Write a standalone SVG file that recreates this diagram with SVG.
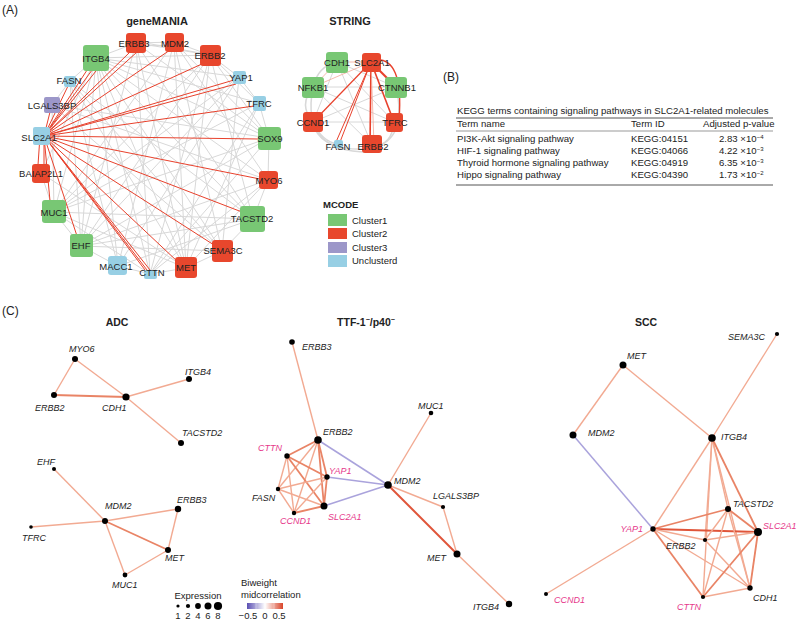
<svg xmlns="http://www.w3.org/2000/svg" width="800" height="622" viewBox="0 0 800 622">
<defs>
  <linearGradient id="bicor" x1="0" y1="0" x2="1" y2="0">
    <stop offset="0" stop-color="#5a4fb3"/>
    <stop offset="0.5" stop-color="#ffffff"/>
    <stop offset="1" stop-color="#d9452a"/>
  </linearGradient>
</defs>
<style>
  text { font-family: "Liberation Sans", Arial, sans-serif; fill: #222; }
  .panel { font-size: 12px; }
  .title { font-size: 11px; font-weight: bold; }
  .gl { font-size: 9.5px; text-anchor: middle; }
  .g1 { fill: #78c774; } .g2 { fill: #e8472d; } .g3 { fill: #9c97c9; } .g4 { fill: #97cfe4; }
  .gray line, .gray path { stroke: #d8d8d8; stroke-width: 1; fill: none; }
  .red line { stroke: #e8412c; stroke-width: 1; }
  .tb { font-size: 9.6px; }
  .rule { stroke: #555; stroke-width: 1; }
  .lg { font-size: 9.5px; }
  .gn { font-size: 9px; font-style: italic; }
  .pk { fill: #e6388a; }
  .e1 { stroke: #f2aa92; stroke-width: 1.4; }
  .e2 { stroke: #e98466; stroke-width: 1.8; }
  .e3 { stroke: #e0553a; stroke-width: 2; }
  .ep { stroke: #aaa3dc; stroke-width: 1.5; }
  .dot { fill: #000; }
</style>

<!-- panel letters -->
<text class="panel" x="2" y="14">(A)</text>
<text class="panel" x="443" y="81">(B)</text>
<text class="panel" x="2" y="315">(C)</text>

<!-- ===== geneMANIA network ===== -->
<text class="title" x="157" y="25" text-anchor="middle">geneMANIA</text>
<g id="genemania-edges">
  <g class="gray">
    <line x1="136" y1="43" x2="174" y2="42"/><line x1="174" y1="42" x2="210" y2="55"/>
    <line x1="210" y1="55" x2="239" y2="77"/><line x1="239" y1="77" x2="259" y2="103"/>
    <line x1="259" y1="103" x2="269" y2="138"/><line x1="269" y1="138" x2="268" y2="180"/>
    <line x1="268" y1="180" x2="253" y2="219"/><line x1="253" y1="219" x2="222" y2="251"/>
    <line x1="222" y1="251" x2="186" y2="268"/><line x1="186" y1="268" x2="150" y2="274"/>
    <line x1="150" y1="274" x2="118" y2="266"/><line x1="118" y1="266" x2="81" y2="246"/>
    <line x1="81" y1="246" x2="54" y2="212"/><line x1="54" y1="212" x2="41" y2="173"/>
    <line x1="96" y1="58" x2="70" y2="81"/><line x1="96" y1="58" x2="136" y2="43"/>
    <line x1="70" y1="81" x2="52" y2="105"/>
    <line x1="136" y1="43" x2="210" y2="55"/><line x1="136" y1="43" x2="269" y2="138"/>
    <line x1="136" y1="43" x2="253" y2="219"/><line x1="136" y1="43" x2="186" y2="268"/>
    <line x1="136" y1="43" x2="150" y2="274"/><line x1="136" y1="43" x2="81" y2="246"/>
    <line x1="174" y1="42" x2="269" y2="138"/><line x1="174" y1="42" x2="268" y2="180"/>
    <line x1="174" y1="42" x2="222" y2="251"/><line x1="174" y1="42" x2="186" y2="268"/>
    <line x1="174" y1="42" x2="118" y2="266"/><line x1="174" y1="42" x2="54" y2="212"/>
    <line x1="210" y1="55" x2="259" y2="103"/><line x1="210" y1="55" x2="269" y2="138"/>
    <line x1="210" y1="55" x2="253" y2="219"/><line x1="210" y1="55" x2="186" y2="268"/>
    <line x1="210" y1="55" x2="150" y2="274"/><line x1="210" y1="55" x2="81" y2="246"/>
    <line x1="210" y1="55" x2="54" y2="212"/><line x1="210" y1="55" x2="96" y2="58"/>
    <line x1="239" y1="77" x2="222" y2="251"/><line x1="239" y1="77" x2="118" y2="266"/>
    <line x1="239" y1="77" x2="81" y2="246"/><line x1="239" y1="77" x2="54" y2="212"/>
    <line x1="239" y1="77" x2="96" y2="58"/><line x1="259" y1="103" x2="186" y2="268"/>
    <line x1="259" y1="103" x2="54" y2="212"/><line x1="259" y1="103" x2="96" y2="58"/>
    <line x1="269" y1="138" x2="150" y2="274"/><line x1="269" y1="138" x2="81" y2="246"/>
    <line x1="269" y1="138" x2="54" y2="212"/><line x1="269" y1="138" x2="96" y2="58"/>
    <line x1="269" y1="138" x2="52" y2="105"/><line x1="268" y1="180" x2="186" y2="268"/>
    <line x1="268" y1="180" x2="150" y2="274"/><line x1="268" y1="180" x2="81" y2="246"/>
    <line x1="268" y1="180" x2="96" y2="58"/><line x1="268" y1="180" x2="52" y2="105"/>
    <line x1="253" y1="219" x2="118" y2="266"/><line x1="253" y1="219" x2="81" y2="246"/>
    <line x1="253" y1="219" x2="54" y2="212"/><line x1="253" y1="219" x2="96" y2="58"/>
    <line x1="253" y1="219" x2="70" y2="81"/><line x1="222" y1="251" x2="81" y2="246"/>
    <line x1="222" y1="251" x2="96" y2="58"/><line x1="222" y1="251" x2="52" y2="105"/>
    <line x1="222" y1="251" x2="70" y2="81"/><line x1="186" y1="268" x2="54" y2="212"/>
    <line x1="186" y1="268" x2="96" y2="58"/><line x1="186" y1="268" x2="70" y2="81"/>
    <line x1="186" y1="268" x2="41" y2="173"/><line x1="150" y1="274" x2="96" y2="58"/>
    <line x1="150" y1="274" x2="54" y2="212"/><line x1="150" y1="274" x2="259" y2="103"/>
    <line x1="118" y1="266" x2="96" y2="58"/><line x1="118" y1="266" x2="70" y2="81"/>
    <line x1="81" y1="246" x2="96" y2="58"/><line x1="81" y1="246" x2="70" y2="81"/>
    <line x1="54" y1="212" x2="96" y2="58"/><line x1="54" y1="212" x2="52" y2="105"/>
    <line x1="41" y1="173" x2="96" y2="58"/><line x1="140" y1="42" x2="206" y2="54"/>
    <line x1="138" y1="46" x2="172" y2="45"/>
  </g>
  <g class="red">
    <line x1="44" y1="136" x2="91" y2="64"/><line x1="44" y1="136" x2="95" y2="66"/>
    <line x1="44" y1="136" x2="100" y2="66"/><line x1="44" y1="136" x2="130" y2="52"/>
    <line x1="44" y1="136" x2="137" y2="52"/><line x1="44" y1="136" x2="170" y2="50"/>
    <line x1="44" y1="136" x2="204" y2="63"/><line x1="44" y1="136" x2="234" y2="80"/>
    <line x1="44" y1="136" x2="236" y2="84"/><line x1="44" y1="136" x2="254" y2="106"/>
    <line x1="44" y1="136" x2="258" y2="139"/><line x1="44" y1="136" x2="260" y2="179"/>
    <line x1="44" y1="136" x2="242" y2="212"/><line x1="44" y1="136" x2="214" y2="245"/>
    <line x1="44" y1="136" x2="178" y2="262"/><line x1="44" y1="136" x2="145" y2="270"/>
    <line x1="44" y1="136" x2="147" y2="270"/><line x1="44" y1="136" x2="150" y2="270"/>
    <line x1="44" y1="136" x2="77" y2="236"/><line x1="44" y1="136" x2="50" y2="201"/>
    <line x1="40" y1="136" x2="38" y2="165"/><line x1="44" y1="136" x2="44" y2="165"/>
    <line x1="44" y1="136" x2="68" y2="86"/><line x1="44" y1="136" x2="50" y2="112"/>
  </g>
</g>
<g id="gm-ERBB3"><rect class="g2" x="126" y="33" width="20" height="20" rx="3"/><text class="gl" x="134" y="47">ERBB3</text></g>
<g id="gm-MDM2"><rect class="g2" x="165" y="33" width="19" height="19" rx="3"/><text class="gl" x="175" y="47">MDM2</text></g>
<g id="gm-ERBB2"><rect class="g2" x="200" y="45" width="21" height="21" rx="3"/><text class="gl" x="210" y="59">ERBB2</text></g>
<g id="gm-ITGB4"><rect class="g1" x="83" y="45" width="26" height="26" rx="3"/><text class="gl" x="96" y="62">ITGB4</text></g>
<g id="gm-YAP1"><rect class="g4" x="233" y="71" width="13" height="13" rx="2"/><text class="gl" x="241" y="81">YAP1</text></g>
<g id="gm-FASN"><rect class="g4" x="64" y="76" width="12" height="11" rx="2"/><text class="gl" x="69" y="84">FASN</text></g>
<g id="gm-TFRC"><rect class="g4" x="253" y="96" width="13" height="15" rx="2"/><text class="gl" x="259" y="107">TFRC</text></g>
<g id="gm-LGALS3BP"><rect class="g3" x="44" y="97" width="16" height="16" rx="2"/><text class="gl" x="52" y="109">LGALS3BP</text></g>
<g id="gm-SLC2A1"><rect class="g4" x="33" y="127" width="17" height="18" rx="2"/><text class="gl" x="39" y="141">SLC2A1</text></g>
<g id="gm-SOX9"><rect class="g1" x="258" y="127" width="23" height="23" rx="3"/><text class="gl" x="270" y="142">SOX9</text></g>
<g id="gm-BAIAP2L1"><rect class="g2" x="32" y="164" width="18" height="19" rx="3"/><text class="gl" x="41" y="177">BAIAP2L1</text></g>
<g id="gm-MYO6"><rect class="g2" x="259" y="171" width="19" height="18" rx="3"/><text class="gl" x="269" y="184">MYO6</text></g>
<g id="gm-MUC1"><rect class="g1" x="42" y="200" width="24" height="23" rx="3"/><text class="gl" x="54" y="216">MUC1</text></g>
<g id="gm-TACSTD2"><rect class="g1" x="240" y="206" width="25" height="26" rx="3"/><text class="gl" x="252" y="222">TACSTD2</text></g>
<g id="gm-EHF"><rect class="g1" x="70" y="234" width="23" height="23" rx="3"/><text class="gl" x="81" y="249">EHF</text></g>
<g id="gm-SEMA3C"><rect class="g2" x="212" y="240" width="21" height="22" rx="3"/><text class="gl" x="223" y="254">SEMA3C</text></g>
<g id="gm-MACC1"><rect class="g4" x="108" y="256" width="19" height="19" rx="3"/><text class="gl" x="116" y="270">MACC1</text></g>
<g id="gm-CTTN"><rect class="g4" x="144" y="270" width="13" height="9" rx="2"/><text class="gl" x="152" y="276">CTTN</text></g>
<g id="gm-MET"><rect class="g2" x="175" y="257" width="22" height="21" rx="3"/><text class="gl" x="186" y="271">MET</text></g>

<!-- ===== STRING network ===== -->
<text class="title" x="350" y="25" text-anchor="middle">STRING</text>
<g id="string-edges">
  <g class="gray">
    <path d="M313,87 Q298,105 313,122" style="stroke-width:1.5"/>
    <path d="M313,122 Q318,152 372,149" style="stroke-width:1.5"/>
    <path d="M313,87 Q300,154 372,152" style="stroke-width:1.5"/>
    <path d="M396,87 Q408,140 372,148" style="stroke-width:1.5"/>
    <path d="M394,122 Q392,146 372,146" style="stroke-width:1.5"/>
    <path d="M337,62 Q318,66 313,87" style="stroke-width:1.5"/>
    <path d="M313,122 Q322,142 338,144" style="stroke-width:1.5"/>
    <line x1="337" y1="62" x2="396" y2="87"/><line x1="313" y1="87" x2="396" y2="87"/>
    <line x1="337" y1="62" x2="313" y2="122"/><line x1="337" y1="62" x2="372" y2="145"/>
    <line x1="313" y1="87" x2="394" y2="122"/><line x1="396" y1="87" x2="313" y2="122"/>
    <line x1="337" y1="62" x2="394" y2="122"/><line x1="313" y1="87" x2="372" y2="145"/>
    <line x1="313" y1="122" x2="394" y2="122"/>
  </g>
  <g fill="none">
    <line x1="371" y1="62" x2="337" y2="62" stroke="#f4a898" stroke-width="0.8"/>
    <line x1="371" y1="62" x2="313" y2="87" stroke="#f4a898" stroke-width="0.8"/>
    <line x1="337" y1="62" x2="313" y2="87" stroke="#f4a898" stroke-width="0.8"/>
    <line x1="371" y1="62" x2="313" y2="122" stroke="#e8412c" stroke-width="1.2"/>
    <line x1="371" y1="62" x2="336" y2="142" stroke="#e8412c" stroke-width="1"/>
    <line x1="371" y1="62" x2="340" y2="142" stroke="#e8412c" stroke-width="1"/>
    <line x1="371" y1="62" x2="370" y2="145" stroke="#e8412c" stroke-width="1.6"/>
    <line x1="371" y1="62" x2="374" y2="145" stroke="#f4a898" stroke-width="0.8"/>
    <line x1="371" y1="62" x2="394" y2="122" stroke="#e8412c" stroke-width="1.6"/>
    <line x1="371" y1="62" x2="396" y2="87" stroke="#e8412c" stroke-width="2.2"/>
    <path d="M374,60 Q404,56 399,120" stroke="#e8412c" stroke-width="1.4"/>
  </g>
</g>
<g id="st-CDH1"><rect class="g1" x="326" y="52" width="22" height="21" rx="3"/><text class="gl" x="337" y="66">CDH1</text></g>
<g id="st-SLC2A1"><rect class="g2" x="362" y="53" width="19" height="19" rx="3"/><text class="gl" x="372" y="66">SLC2A1</text></g>
<g id="st-NFKB1"><rect class="g1" x="302" y="77" width="22" height="21" rx="3"/><text class="gl" x="313" y="91">NFKB1</text></g>
<g id="st-CTNNB1"><rect class="g1" x="385" y="77" width="22" height="21" rx="3"/><text class="gl" x="397" y="91">CTNNB1</text></g>
<g id="st-CCND1"><rect class="g2" x="303" y="112" width="20" height="20" rx="3"/><text class="gl" x="313" y="126">CCND1</text></g>
<g id="st-TFRC"><rect class="g2" x="386" y="113" width="17" height="19" rx="3"/><text class="gl" x="395" y="126">TFRC</text></g>
<g id="st-FASN"><rect class="g4" x="334" y="140" width="9" height="8" rx="2"/><text class="gl" x="338" y="150">FASN</text></g>
<g id="st-ERBB2"><rect class="g2" x="362" y="135" width="20" height="18" rx="3"/><text class="gl" x="373" y="150">ERBB2</text></g>

<!-- MCODE legend -->
<g id="mcode-legend">
  <text x="323" y="208" style="font-size:9.5px;font-weight:bold">MCODE</text>
  <rect class="g1" x="328" y="214" width="19" height="12"/><text class="lg" x="352" y="223.5">Cluster1</text>
  <rect class="g2" x="328" y="228" width="19" height="11"/><text class="lg" x="352" y="237">Cluster2</text>
  <rect class="g3" x="328" y="242" width="19" height="11"/><text class="lg" x="352" y="251">Cluster3</text>
  <rect class="g4" x="328" y="255" width="19" height="12"/><text class="lg" x="352" y="264">Unclusterd</text>
</g>

<!-- ===== (B) KEGG table ===== -->
<g id="kegg-table" class="tb">
  <text x="457" y="114">KEGG terms containing signaling pathways in SLC2A1-related molecules</text>
  <line class="rule" x1="456" y1="118" x2="773" y2="118"/>
  <text x="457" y="127">Term name</text>
  <text x="631" y="127">Term ID</text>
  <text x="703" y="127">Adjusted p-value</text>
  <line class="rule" x1="456" y1="131" x2="773" y2="131" style="stroke-width:0.6"/>
  <text x="457" y="142">PI3K-Akt signaling pathway</text>
  <text x="631" y="142">KEGG:04151</text>
  <text x="719" y="142">2.83 ×10<tspan dy="-3" style="font-size:6px">−4</tspan></text>
  <text x="457" y="154">HIF-1 signaling pathway</text>
  <text x="631" y="154">KEGG:04066</text>
  <text x="719" y="154">4.22 ×10<tspan dy="-3" style="font-size:6px">−3</tspan></text>
  <text x="457" y="166">Thyroid hormone signaling pathway</text>
  <text x="631" y="166">KEGG:04919</text>
  <text x="719" y="166">6.35 ×10<tspan dy="-3" style="font-size:6px">−3</tspan></text>
  <text x="457" y="178">Hippo signaling pathway</text>
  <text x="631" y="178">KEGG:04390</text>
  <text x="719" y="178">1.73 ×10<tspan dy="-3" style="font-size:6px">−2</tspan></text>
  <line class="rule" x1="456" y1="185" x2="773" y2="185"/>
</g>

<!-- ===== (C) ADC ===== -->
<text x="117" y="326" text-anchor="middle" style="font-size:10.5px;font-weight:bold">ADC</text>
<g id="adc-edges">
  <line class="e1" x1="75" y1="359" x2="54" y2="395"/>
  <line class="e1" x1="75" y1="359" x2="126" y2="397"/>
  <line class="e2" x1="54" y1="395" x2="126" y2="397"/>
  <line class="e1" x1="126" y1="397" x2="189" y2="379"/>
  <line class="e1" x1="126" y1="397" x2="181" y2="443"/>
  <line class="e1" x1="54" y1="469" x2="105" y2="521"/>
  <line class="e1" x1="31" y1="527" x2="105" y2="521"/>
  <line class="e1" x1="105" y1="521" x2="178" y2="509"/>
  <line class="e2" x1="105" y1="521" x2="168" y2="550"/>
  <line class="e1" x1="178" y1="509" x2="168" y2="550"/>
  <line class="e1" x1="105" y1="521" x2="125" y2="575"/>
  <line class="e1" x1="125" y1="575" x2="168" y2="550"/>
</g>
<g id="adc-MYO6"><circle class="dot" cx="75" cy="359" r="3"/><text class="gn" x="69" y="352">MYO6</text></g>
<g id="adc-ERBB2"><circle class="dot" cx="54" cy="395" r="3"/><text class="gn" x="35" y="411">ERBB2</text></g>
<g id="adc-CDH1"><circle class="dot" cx="126" cy="397" r="3.6"/><text class="gn" x="102" y="411">CDH1</text></g>
<g id="adc-ITGB4"><circle class="dot" cx="189" cy="379" r="3"/><text class="gn" x="185" y="375">ITGB4</text></g>
<g id="adc-TACSTD2"><circle class="dot" cx="181" cy="443" r="3"/><text class="gn" x="182" y="436">TACSTD2</text></g>
<g id="adc-EHF"><circle class="dot" cx="54" cy="469" r="2"/><text class="gn" x="37" y="465">EHF</text></g>
<g id="adc-MDM2"><circle class="dot" cx="105" cy="521" r="3"/><text class="gn" x="105" y="509">MDM2</text></g>
<g id="adc-ERBB3"><circle class="dot" cx="178" cy="509" r="3.2"/><text class="gn" x="177" y="503">ERBB3</text></g>
<g id="adc-TFRC"><circle class="dot" cx="31" cy="527" r="1.8"/><text class="gn" x="22" y="541">TFRC</text></g>
<g id="adc-MET"><circle class="dot" cx="168" cy="550" r="3"/><text class="gn" x="165" y="561">MET</text></g>
<g id="adc-MUC1"><circle class="dot" cx="125" cy="575" r="2.4"/><text class="gn" x="112" y="588">MUC1</text></g>

<!-- ===== (C) TTF-1-/p40- ===== -->
<text x="366" y="326" text-anchor="middle" style="font-size:10.5px;font-weight:bold">TTF-1<tspan dy="-4" style="font-size:7px">−</tspan><tspan dy="4">/p40</tspan><tspan dy="-4" style="font-size:7px">−</tspan></text>
<g id="ttf-edges">
  <line class="e1" x1="292" y1="342" x2="318" y2="440"/>
  <line class="e1" x1="431" y1="413" x2="388" y2="485"/>
  <line class="ep" x1="318" y1="440" x2="388" y2="485"/>
  <line class="ep" x1="327" y1="477" x2="388" y2="485"/>
  <line class="ep" x1="324" y1="506" x2="388" y2="485"/>
  <line class="e1" x1="388" y1="485" x2="443" y2="507"/>
  <line class="e3" x1="388" y1="485" x2="457" y2="554"/>
  <line class="e1" x1="443" y1="507" x2="457" y2="554"/>
  <line class="e1" x1="457" y1="554" x2="509" y2="604"/>
  <line class="e2" x1="318" y1="440" x2="287" y2="456"/>
  <line class="e2" x1="318" y1="440" x2="327" y2="477"/>
  <line class="e1" x1="318" y1="440" x2="278" y2="489"/>
  <line class="e2" x1="318" y1="440" x2="324" y2="506"/>
  <line class="e1" x1="318" y1="440" x2="294" y2="513"/>
  <line class="e2" x1="287" y1="456" x2="327" y2="477"/>
  <line class="e1" x1="287" y1="456" x2="278" y2="489"/>
  <line class="e2" x1="287" y1="456" x2="324" y2="506"/>
  <line class="e1" x1="287" y1="456" x2="294" y2="513"/>
  <line class="e1" x1="327" y1="477" x2="278" y2="489"/>
  <line class="e2" x1="327" y1="477" x2="324" y2="506"/>
  <line class="e1" x1="327" y1="477" x2="294" y2="513"/>
  <line class="e1" x1="278" y1="489" x2="324" y2="506"/>
  <line class="e1" x1="278" y1="489" x2="294" y2="513"/>
  <line class="e2" x1="324" y1="506" x2="294" y2="513"/>
</g>
<g id="ttf-ERBB3"><circle class="dot" cx="292" cy="342" r="2.8"/><text class="gn" x="302" y="350">ERBB3</text></g>
<g id="ttf-ERBB2"><circle class="dot" cx="318" cy="440" r="3.8"/><text class="gn" x="323" y="435">ERBB2</text></g>
<g id="ttf-MUC1"><circle class="dot" cx="431" cy="413" r="2.3"/><text class="gn" x="418" y="409">MUC1</text></g>
<g id="ttf-CTTN"><circle class="dot" cx="287" cy="456" r="2.7"/><text class="gn pk" x="258" y="451">CTTN</text></g>
<g id="ttf-YAP1"><circle class="dot" cx="327" cy="477" r="2.7"/><text class="gn pk" x="329" y="474">YAP1</text></g>
<g id="ttf-MDM2"><circle class="dot" cx="388" cy="485" r="3.8"/><text class="gn" x="394" y="484">MDM2</text></g>
<g id="ttf-FASN"><circle class="dot" cx="278" cy="489" r="2.2"/><text class="gn" x="252" y="501">FASN</text></g>
<g id="ttf-SLC2A1"><circle class="dot" cx="324" cy="506" r="3.5"/><text class="gn pk" x="328" y="520">SLC2A1</text></g>
<g id="ttf-CCND1"><circle class="dot" cx="294" cy="513" r="2.2"/><text class="gn pk" x="280" y="524">CCND1</text></g>
<g id="ttf-LGALS3BP"><circle class="dot" cx="443" cy="507" r="2.1"/><text class="gn" x="433" y="499">LGALS3BP</text></g>
<g id="ttf-MET"><circle class="dot" cx="457" cy="554" r="3.5"/><text class="gn" x="427" y="561">MET</text></g>
<g id="ttf-ITGB4"><circle class="dot" cx="509" cy="604" r="3.2"/><text class="gn" x="473" y="610">ITGB4</text></g>

<!-- ===== (C) SCC ===== -->
<text x="646" y="326" text-anchor="middle" style="font-size:10.5px;font-weight:bold">SCC</text>
<g id="scc-edges">
  <line class="e1" x1="623" y1="365" x2="573" y2="435"/>
  <line class="e1" x1="623" y1="365" x2="712" y2="438"/>
  <line class="e1" x1="777" y1="334" x2="712" y2="438"/>
  <line class="ep" x1="573" y1="435" x2="653" y2="529"/>
  <line class="e1" x1="653" y1="529" x2="546" y2="594"/>
  <line class="e1" x1="712" y1="438" x2="653" y2="529"/>
  <line class="e1" x1="712" y1="438" x2="703" y2="597"/>
  <line class="e1" x1="712" y1="438" x2="705" y2="540"/>
  <line class="e1" x1="712" y1="438" x2="728" y2="509"/>
  <line class="e1" x1="712" y1="438" x2="750" y2="588"/>
  <line class="e2" x1="712" y1="438" x2="758" y2="532"/>
  <line class="e2" x1="653" y1="529" x2="728" y2="509"/>
  <line class="e3" x1="653" y1="529" x2="758" y2="532"/>
  <line class="e1" x1="653" y1="529" x2="705" y2="540"/>
  <line class="e2" x1="653" y1="529" x2="703" y2="597"/>
  <line class="e1" x1="653" y1="529" x2="750" y2="588"/>
  <line class="e2" x1="728" y1="509" x2="758" y2="532"/>
  <line class="e1" x1="728" y1="509" x2="705" y2="540"/>
  <line class="e1" x1="728" y1="509" x2="703" y2="597"/>
  <line class="e1" x1="728" y1="509" x2="750" y2="588"/>
  <line class="e1" x1="758" y1="532" x2="705" y2="540"/>
  <line class="e2" x1="758" y1="532" x2="750" y2="588"/>
  <line class="e2" x1="758" y1="532" x2="703" y2="597"/>
  <line class="e1" x1="705" y1="540" x2="750" y2="588"/>
  <line class="e1" x1="703" y1="597" x2="750" y2="588"/>
</g>
<g id="scc-SEMA3C"><circle class="dot" cx="777" cy="334" r="2.1"/><text class="gn" x="728" y="340">SEMA3C</text></g>
<g id="scc-MET"><circle class="dot" cx="623" cy="365" r="3.5"/><text class="gn" x="627" y="359">MET</text></g>
<g id="scc-MDM2"><circle class="dot" cx="573" cy="435" r="3.5"/><text class="gn" x="588" y="436">MDM2</text></g>
<g id="scc-ITGB4"><circle class="dot" cx="712" cy="438" r="3.8"/><text class="gn" x="721" y="440">ITGB4</text></g>
<g id="scc-TACSTD2"><circle class="dot" cx="728" cy="509" r="3"/><text class="gn" x="733" y="507">TACSTD2</text></g>
<g id="scc-YAP1"><circle class="dot" cx="653" cy="529" r="2.7"/><text class="gn pk" x="643" y="532" text-anchor="end">YAP1</text></g>
<g id="scc-SLC2A1"><circle class="dot" cx="758" cy="532" r="4"/><text class="gn pk" x="763" y="529">SLC2A1</text></g>
<g id="scc-ERBB2"><circle class="dot" cx="705" cy="540" r="2.1"/><text class="gn" x="666" y="549">ERBB2</text></g>
<g id="scc-CDH1"><circle class="dot" cx="750" cy="588" r="2.7"/><text class="gn" x="753" y="601">CDH1</text></g>
<g id="scc-CTTN"><circle class="dot" cx="703" cy="597" r="2.1"/><text class="gn pk" x="677" y="610">CTTN</text></g>
<g id="scc-CCND1"><circle class="dot" cx="546" cy="594" r="2"/><text class="gn pk" x="554" y="603">CCND1</text></g>

<!-- legends for (C) -->
<g id="expression-legend">
  <text class="lg" x="198" y="599" text-anchor="middle">Expression</text>
  <circle class="dot" cx="178" cy="606" r="1.6"/>
  <circle class="dot" cx="188" cy="606" r="2.1"/>
  <circle class="dot" cx="198" cy="606" r="2.9"/>
  <circle class="dot" cx="208" cy="606" r="3.5"/>
  <circle class="dot" cx="218" cy="606" r="4.1"/>
  <text class="lg" x="178" y="619" text-anchor="middle">1</text>
  <text class="lg" x="188" y="619" text-anchor="middle">2</text>
  <text class="lg" x="198" y="619" text-anchor="middle">4</text>
  <text class="lg" x="208" y="619" text-anchor="middle">6</text>
  <text class="lg" x="218" y="619" text-anchor="middle">8</text>
</g>
<g id="bicor-legend">
  <text class="lg" x="241" y="586">Biweight</text>
  <text class="lg" x="241" y="598">midcorrelation</text>
  <rect x="247" y="603" width="36" height="6" fill="url(#bicor)"/>
  <g stroke="#fff" stroke-width="0.5" opacity="0.7">
    <line x1="256" y1="603" x2="256" y2="609"/><line x1="265" y1="603" x2="265" y2="609"/><line x1="274" y1="603" x2="274" y2="609"/>
  </g>
  <text class="lg" x="248" y="619" text-anchor="middle">−0.5</text>
  <text class="lg" x="265" y="619" text-anchor="middle">0</text>
  <text class="lg" x="279" y="619" text-anchor="middle">0.5</text>
</g>
</svg>
